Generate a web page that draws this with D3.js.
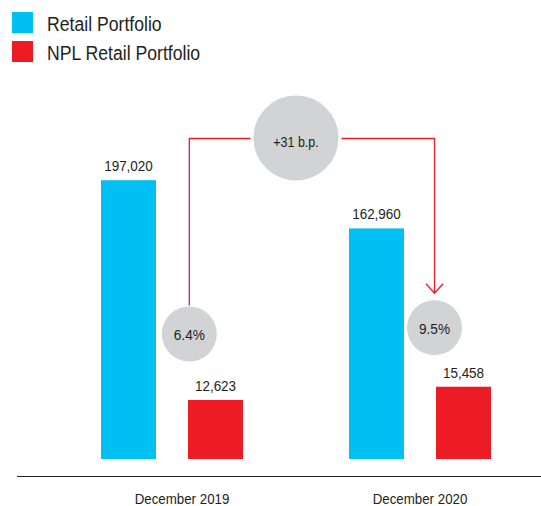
<!DOCTYPE html>
<html>
<head>
<meta charset="utf-8">
<script src="https://cdn.jsdelivr.net/npm/d3@7/dist/d3.min.js"></script>
<style>
  html, body { margin: 0; padding: 0; background: #ffffff; }
  svg { display: block; }
  text { font-family: "Liberation Sans", Arial, sans-serif; fill: #231f20; }
</style>
</head>
<body>
<svg id="chart" width="541" height="506"></svg>
<script>
// Portfolio figures (millions)
const categories = ["December 2019", "December 2020"];
const retailValues = [197020, 162960];
const nplValues = [12623, 15458];
const nplRatios = ["6.4%", "9.5%"];
const ratioChange = "+31 b.p.";
const seriesNames = ["Retail Portfolio", "NPL Retail Portfolio"];

const COLORS = { retail: "#00c0f3", npl: "#ed1c24", bubble: "#d1d3d4", line: "#ed1c24" };
const fmt = d3.format(",");

const svg = d3.select("#chart");
const baseline = 459;

// Condensed text: regular face squeezed horizontally around its anchor
function label(parent, x, y, txt, size, sx, anchor) {
  return parent.append("text")
    .attr("transform", `translate(${x},${y}) scale(${sx},1)`)
    .attr("text-anchor", anchor || "middle")
    .attr("font-size", size)
    .text(txt);
}

// Group and series scales
const xGroup = d3.scaleBand().domain(categories).range([101, 101 + 2 * 248]).padding(0);
const xSeries = d3.scaleBand().domain(["retail", "npl"]).range([0, 142]).paddingInner(0.368).paddingOuter(0);
// Retail and NPL bars are drawn on separate value scales
const yRetail = d3.scaleLinear().domain([0, 200000]).range([baseline, 176]);
const yNpl = d3.scaleLinear().domain([0, 20000]).range([baseline, 365.5]);

const rows = categories.map((c, i) => ({ cat: c, retail: retailValues[i], npl: nplValues[i], ratio: nplRatios[i] }));

// Legend
const legend = svg.append("g");
seriesNames.forEach((name, i) => {
  legend.append("rect").attr("x", 12).attr("y", 12 + i * 29).attr("width", 21).attr("height", 21)
    .attr("fill", i === 0 ? COLORS.retail : COLORS.npl);
  label(legend, 47, 30.5 + i * 29, name, 21, 0.84, "start");
});

// Bars with value labels
const g = svg.append("g");
const bw = xSeries.bandwidth();
rows.forEach(r => {
  const gx = xGroup(r.cat);
  [["retail", yRetail], ["npl", yNpl]].forEach(([key, y]) => {
    const x = gx + xSeries(key);
    g.append("rect").attr("x", x).attr("y", y(r[key])).attr("width", bw).attr("height", baseline - y(r[key]))
      .attr("fill", COLORS[key]);
    label(g, x + bw / 2, y(r[key]) - 9, fmt(r[key]), 15.5, 0.87);
  });
});

// Baseline axis
svg.append("line").attr("x1", 17).attr("x2", 541).attr("y1", 476.5).attr("y2", 476.5)
  .attr("stroke", "#231f20").attr("stroke-width", 1.2);

// Category labels
const labelX = [182, 420];
categories.forEach((c, i) => label(svg, labelX[i], 504, c, 15.5, 0.86));

// NPL ratio bubbles beside the NPL bars
const ratioPos = rows.map((r, i) => ({
  x: xGroup(r.cat) + xSeries("npl") + (i === 0 ? 1.3 : -1.5),
  y: i === 0 ? 334 : 327.7
}));

// Connector from the first ratio to the second, passing the change bubble
const topY = 138.5;
const arrowTip = ratioPos[1].y - 27.5 - 7;
const conn = d3.path();
conn.moveTo(ratioPos[0].x, ratioPos[0].y - 27.5 - 1);
conn.lineTo(ratioPos[0].x, topY);
conn.lineTo(ratioPos[1].x, topY);
conn.lineTo(ratioPos[1].x, arrowTip);
svg.append("path").attr("d", conn.toString()).attr("fill", "none").attr("stroke", COLORS.line).attr("stroke-width", 1.3);
svg.append("path")
  .attr("d", `M${ratioPos[1].x - 8.5},${arrowTip - 9.5}L${ratioPos[1].x},${arrowTip}L${ratioPos[1].x + 8.5},${arrowTip - 9.5}`)
  .attr("fill", "none").attr("stroke", COLORS.line).attr("stroke-width", 1.3);

// Change bubble
const bx = 296, by = 138;
svg.append("circle").attr("cx", bx).attr("cy", by).attr("r", 44).attr("fill", COLORS.bubble)
  .attr("stroke", "#ffffff").attr("stroke-width", 3);
label(svg, bx, by + 8.5, ratioChange, 14.5, 0.86);

ratioPos.forEach((p, i) => {
  svg.append("circle").attr("cx", p.x).attr("cy", p.y).attr("r", 27.5).attr("fill", COLORS.bubble);
  label(svg, p.x, p.y + 6, rows[i].ratio, 15.5, 0.88);
});
</script>
</body>
</html>
